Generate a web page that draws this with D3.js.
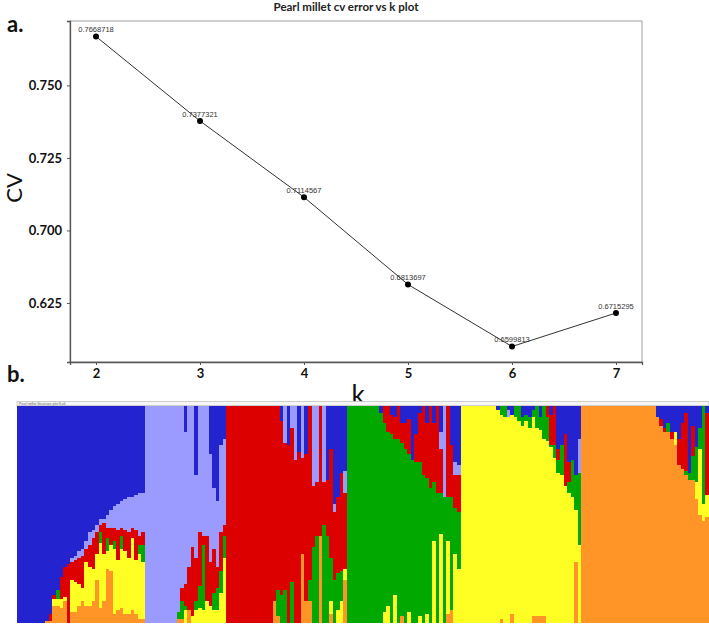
<!DOCTYPE html>
<html>
<head>
<meta charset="utf-8">
<script src="https://cdn.jsdelivr.net/npm/d3@7"></script>
<style>
  body { margin: 0; background: #fff; }
  svg { display: block; }
</style>
</head>
<body>
<svg id="chart" width="709" height="625"></svg>
<script>
// --- panel a: cv error per K ---
const kValues = [2, 3, 4, 5, 6, 7];
const cvError = [0.7668718, 0.7377321, 0.7114567, 0.6813697, 0.6599813, 0.6715295];
const yTickValues = [0.750, 0.725, 0.700, 0.675];
const yTickLabels = ['0.750', '0.725', '0.700', '0.625'];

// --- panel b: ancestry proportions per individual (%), columns follow clusterKeys ---
const clusterKeys = ['blue', 'lilac', 'red', 'green', 'yellow', 'orange'];

const popBlue = [
  [100,0,0,0,0,0], [100,0,0,0,0,0], [100,0,0,0,0,0], [100,0,0,0,0,0],
  [100,0,0,0,0,0], [100,0,0,0,0,0], [100,0,0,0,0,0], [100,0,0,0,0,0],
  [99,0,0,0,0,1], [96,0,3,0,0,1], [87,0,2,0,3,8], [85,0,0,4,3,8],
  [79,0,10,0,4,7], [74,0,14,0,2,10], [73,0,27,0,0,0], [70,2,8,0,15,5],
  [69,2,10,0,14,5], [67,3,12,0,10,8], [66,3,15,0,6,10], [62,4,6,0,20,8],
  [58,6,10,0,18,8], [57,4,14,0,15,10], [55,3,10,0,12,20], [52,3,3,5,30,7],
  [52,2,14,0,22,10], [50,6,5,6,8,25], [48,8,8,0,12,24], [46,10,6,4,30,4],
  [45,12,14,0,23,6], [44,12,4,6,27,7], [43,14,10,0,29,4], [42,16,12,0,26,4],
  [42,14,5,0,33,6], [41,16,14,0,25,4], [40,20,4,4,30,2], [40,18,6,8,26,2]
];
const popLilac = [
  [0,100,0,0,0,0], [0,100,0,0,0,0], [0,100,0,0,0,0], [0,100,0,0,0,0],
  [0,100,0,0,0,0], [0,100,0,0,0,0], [0,100,0,0,0,0], [0,100,0,0,0,0],
  [0,100,0,0,0,0], [0,95,0,3,0,2], [0,84,6,8,0,2], [12,70,10,2,6,0],
  [0,74,20,0,0,6], [0,65,32,0,3,0], [32,38,20,4,6,0], [0,58,25,10,7,0],
  [0,60,4,30,6,0], [0,60,30,0,10,0], [22,50,20,0,8,0], [38,28,20,8,6,0],
  [44,30,10,10,6,0], [18,40,18,10,14,0], [15,40,5,10,30,0]
];
const popRed = [
  [0,0,100,0,0,0], [0,0,100,0,0,0], [0,0,100,0,0,0], [0,0,100,0,0,0],
  [0,0,100,0,0,0], [0,0,100,0,0,0], [0,0,100,0,0,0], [0,0,100,0,0,0],
  [0,0,100,0,0,0], [0,0,100,0,0,0], [0,0,100,0,0,0], [0,0,100,0,0,0],
  [0,0,100,0,0,0], [0,0,90,0,0,10], [0,0,85,12,0,3], [7,0,80,13,0,0],
  [0,17,68,15,0,0], [18,0,82,0,0,0], [0,10,71,19,0,0], [0,25,75,0,0,0],
  [21,0,79,0,0,0], [0,24,44,0,0,32], [22,0,68,0,0,10], [0,0,80,10,0,10],
  [0,37,28,35,0,0], [0,35,25,40,0,0], [0,0,60,0,0,40], [0,35,20,45,0,0],
  [34,0,26,40,0,0], [20,0,50,20,6,4], [45,4,31,20,0,0], [42,0,35,17,6,0],
  [31,0,45,14,10,0], [30,10,35,0,5,20]
];
const popGreen = [
  [0,0,0,100,0,0], [0,0,0,100,0,0], [0,0,0,100,0,0], [0,0,0,100,0,0],
  [0,0,0,100,0,0], [0,0,0,100,0,0], [0,0,0,100,0,0], [0,0,0,100,0,0],
  [0,0,0,100,0,0], [3,0,0,97,0,0], [0,0,8,87,5,0], [0,0,12,80,8,0],
  [4,0,9,87,0,0], [5,0,10,72,13,0], [0,0,15,85,0,0], [8,0,9,80,0,3],
  [8,0,12,80,0,0], [6,0,16,73,5,0], [25,0,0,75,0,0], [13,0,13,74,0,0],
  [3,0,23,71,3,0], [0,0,32,68,0,0], [8,0,25,63,4,0], [0,0,38,62,0,0],
  [8,0,27,27,38,0], [0,0,40,60,0,0], [12,8,20,19,41,0], [0,42,0,58,0,0],
  [0,0,42,20,34,4], [18,0,24,52,0,6], [26,6,15,21,32,0], [27,5,17,26,25,0]
];
const popYellow = [
  [0,0,0,0,100,0], [0,0,0,0,100,0], [0,0,0,0,100,0], [0,0,0,0,100,0],
  [0,0,0,0,100,0], [0,0,0,0,100,0], [0,0,0,0,100,0], [0,0,0,0,100,0],
  [0,0,0,0,100,0], [0,0,0,0,100,0], [2,0,0,0,98,0], [0,0,0,4,94,2],
  [0,0,0,5,95,0], [2,3,0,0,95,0], [4,0,0,0,92,4], [0,0,0,5,95,0],
  [0,0,0,7,93,0], [5,0,0,4,91,0], [4,0,0,3,93,0], [5,0,0,5,90,0],
  [2,0,0,3,92,3], [0,0,0,10,87,3], [5,0,0,6,86,3], [0,0,0,15,82,3],
  [0,0,5,11,84,0], [4,0,14,1,81,0], [0,0,18,6,76,0], [20,0,5,6,69,0],
  [18,0,0,14,68,0], [13,0,24,0,63,0], [26,0,9,5,60,0], [25,0,0,17,58,0],
  [32,0,0,16,24,28], [15,16,0,33,36,0]
];
const popOrange = [
  [0,0,0,0,0,100], [0,0,0,0,0,100], [0,0,0,0,0,100], [0,0,0,0,0,100],
  [0,0,0,0,0,100], [0,0,0,0,0,100], [0,0,0,0,0,100], [0,0,0,0,0,100],
  [0,0,0,0,0,100], [0,0,0,0,0,100], [0,0,0,0,0,100], [0,0,0,0,0,100],
  [0,0,0,0,0,100], [0,0,0,0,0,100], [0,0,0,0,0,100], [0,0,0,0,0,100],
  [0,0,0,0,0,100], [0,0,0,0,0,100], [0,0,0,0,0,100], [0,0,0,0,0,100],
  [0,0,0,0,0,100], [5,0,0,0,0,95], [6,0,3,0,0,91], [10,0,2,0,0,88],
  [8,0,0,4,0,88], [12,0,3,0,0,85], [12,0,0,0,6,82], [15,0,12,0,0,73],
  [8,0,21,0,0,71], [3,0,27,2,0,68], [31,0,0,3,0,66], [9,0,14,11,0,66],
  [19,0,0,16,8,57], [10,0,0,10,30,50], [0,0,0,45,8,47], [3,0,38,0,10,49]
];

const clusterColors = {
  blue: '#2323cf', lilac: '#9a9aff', red: '#dd0000',
  green: '#00a800', yellow: '#ffff24', orange: '#ff9526'
};

const svg = d3.select('#chart');
const boldFont = 'Lato, "Open Sans", sans-serif';

// ---------- panel a ----------
const x = d3.scaleLinear().domain([1.75, 7.25]).range([70, 642]);
const y = d3.scaleLinear().domain([0.654636, 0.772217]).range([362, 21]);

svg.append('text')
  .attr('x', 346).attr('y', 11)
  .attr('text-anchor', 'middle')
  .style('font', `bold 11.5px ${boldFont}`)
  .style('fill', '#222')
  .text('Pearl millet cv error vs k plot');

svg.append('text').attr('x', 7).attr('y', 32)
  .style('font', `bold 22px ${boldFont}`).style('fill', '#111').text('a.');
svg.append('text').attr('x', 7).attr('y', 382)
  .style('font', `bold 22px ${boldFont}`).style('fill', '#111').text('b.');

svg.append('rect')
  .attr('x', 70).attr('y', 21).attr('width', 572).attr('height', 341)
  .attr('fill', 'none').attr('stroke', '#a0a0a0').attr('stroke-width', 1);

// Y axis
const yAxis = svg.append('g')
  .attr('transform', 'translate(70,0)')
  .call(d3.axisLeft(y).tickValues(yTickValues).tickSize(3).tickPadding(5)
    .tickFormat((d, i) => yTickLabels[i]));
yAxis.select('.domain').attr('stroke', '#555').attr('stroke-width', 1.3);
yAxis.selectAll('.tick line').attr('stroke', '#555');
yAxis.selectAll('text').style('font', `bold 13px ${boldFont}`).style('fill', '#111');

// X axis
const xAxis = svg.append('g')
  .attr('transform', 'translate(0,362)')
  .call(d3.axisBottom(x).tickValues(kValues).tickSize(3).tickPadding(4).tickFormat(d3.format('d')));
xAxis.select('.domain').attr('stroke', '#555').attr('stroke-width', 1.3);
xAxis.selectAll('.tick line').attr('stroke', '#555');
xAxis.selectAll('text').style('font', `bold 13px ${boldFont}`).style('fill', '#111');

// axis titles
svg.append('text')
  .attr('x', 358).attr('y', 404)
  .attr('text-anchor', 'middle')
  .style('font', `26px ${boldFont}`).style('fill', '#111')
  .text('k');
svg.append('text')
  .attr('transform', 'translate(22,188) rotate(-90)')
  .attr('text-anchor', 'middle')
  .style('font', `22px ${boldFont}`).style('fill', '#111')
  .text('CV');

const pts = kValues.map((k, i) => ({ k, v: cvError[i] }));

svg.append('path')
  .datum(pts)
  .attr('fill', 'none')
  .attr('stroke', '#333')
  .attr('stroke-width', 1)
  .attr('d', d3.line().x(d => x(d.k)).y(d => y(d.v)));

svg.selectAll('.pt')
  .data(pts).enter().append('circle')
  .attr('cx', d => x(d.k)).attr('cy', d => y(d.v))
  .attr('r', 3).attr('fill', '#000');

svg.selectAll('.pt-label')
  .data(pts).enter().append('text')
  .attr('x', d => x(d.k)).attr('y', d => y(d.v) - 4.5)
  .attr('text-anchor', 'middle')
  .style('font', '7.5px "Liberation Sans", Arial, sans-serif')
  .style('fill', '#333')
  .text(d => String(d.v));

// ---------- panel b ----------
const populations = [popBlue, popLilac, popRed, popGreen, popYellow, popOrange];
const table = populations.flat().map((r, i) => {
  const total = d3.sum(r);
  const row = { id: i };
  clusterKeys.forEach((key, j) => { row[key] = r[j] / total; });
  return row;
});

// bottom-to-top stacking: orange at the base, blue on top
const stackOrder = clusterKeys.slice().reverse();
const series = d3.stack().keys(stackOrder)(table);

const xs = d3.scaleBand().domain(table.map(d => d.id)).range([17, 709]);
const ys = d3.scaleLinear().domain([0, 1]).range([623, 406]);

svg.append('rect')
  .attr('x', 17).attr('y', 401.5).attr('width', 692).attr('height', 4)
  .attr('fill', '#f6f6f6').attr('stroke', '#c4c4c4').attr('stroke-width', 0.8);
svg.append('text')
  .attr('x', 19).attr('y', 404.6)
  .style('font', '3.5px "Liberation Sans", Arial, sans-serif')
  .style('fill', '#666')
  .text('Pearl millet Structure plot K=6');

const x0 = d => Math.round(xs(d.data.id));
const x1 = d => Math.round(xs(d.data.id) + xs.bandwidth());

svg.append('g')
  .attr('shape-rendering', 'crispEdges')
  .selectAll('g')
  .data(series).enter().append('g')
  .attr('fill', s => clusterColors[s.key])
  .selectAll('rect')
  .data(s => s.filter(d => d[1] - d[0] > 0)).enter().append('rect')
  .attr('x', x0)
  .attr('width', d => x1(d) - x0(d))
  .attr('y', d => Math.round(ys(d[1])))
  .attr('height', d => Math.round(ys(d[0])) - Math.round(ys(d[1])));
</script>
</body>
</html>
